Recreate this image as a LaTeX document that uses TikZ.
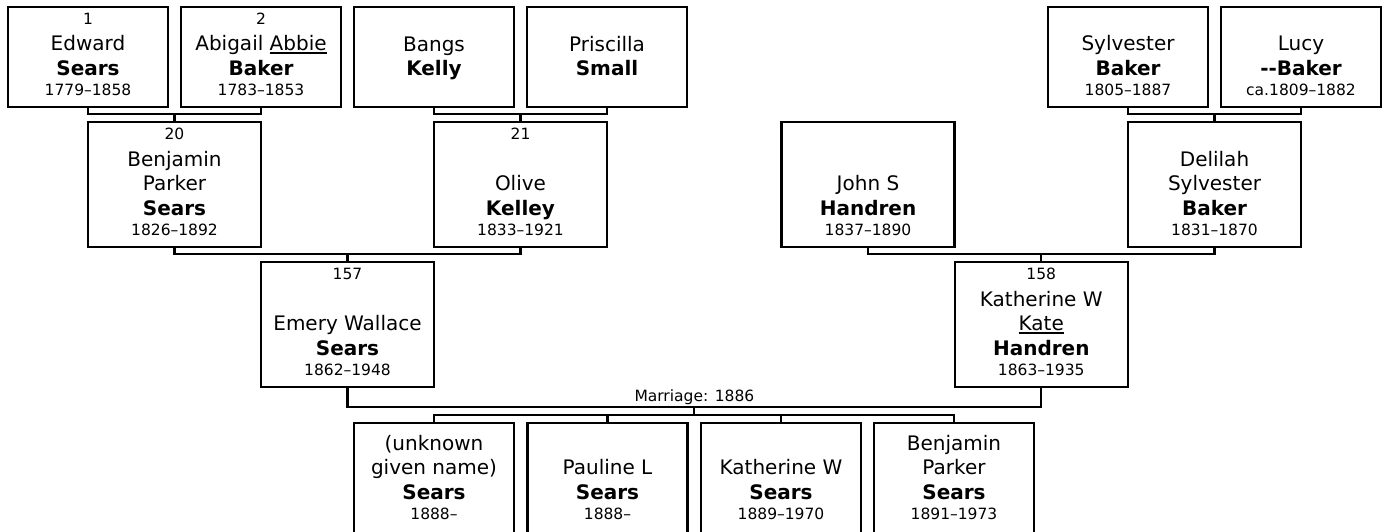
\documentclass[tikz,border=0pt]{standalone}
\usepackage{fontspec}
\setmainfont{DejaVu Sans}
\usetikzlibrary{calc}
\newlength\pw
\newlength\ph
\newlength\pb
\newsavebox\ulbox
\newcommand{\undl}[1]{\leavevmode\sbox\ulbox{#1}\rlap{\rule[-3pt]{\wd\ulbox}{1.5pt}}\usebox\ulbox}
\newcommand{\pers}[3]{\vbox to \ph{\hsize=\pw\centering\lineskiplimit=-50pt
  \fontsize{15.5}{20.5}\selectfont
  \if\relax\detokenize{#1}\relax\else\rule{0pt}{17pt}#1\par\fi\vfill
  \fontsize{20}{24.5}\selectfont #2\par
  \fontsize{15.5}{20.5}\selectfont\mbox{}#3\par\kern\pb}}
\begin{document}
\begin{tikzpicture}[
  x=1pt, y=-1pt,
  pbox/.style={draw, line width=2.2pt, inner sep=0pt, outer sep=0pt},
  topbox/.style={pbox, execute at begin node={\setlength\pw{160pt}\setlength\ph{100pt}\setlength\pb{11pt}}},
  midbox/.style={pbox, execute at begin node={\setlength\pw{173pt}\setlength\ph{125pt}\setlength\pb{11pt}}},
  kidbox/.style={pbox, execute at begin node={\setlength\pw{160pt}\setlength\ph{111pt}\setlength\pb{14pt}}},
  link/.style={draw, line width=2.2pt},
  mtext/.style={font=\fontsize{15.5}{18}\selectfont, inner sep=2pt}
]
\useasboundingbox (0,0) rectangle (1386,531);
\fill[white] (0,0) rectangle (1386,531);
\node[topbox] (edward)    at (88,57)   {\pers{1}{Edward\\\textbf{Sears}}{1779--1858}};
\node[topbox] (abigail)   at (261,57)  {\pers{2}{Abigail \undl{Abbie}\\\textbf{Baker}}{1783--1853}};
\node[topbox] (bangs)     at (434,57)  {\pers{}{Bangs\\\textbf{Kelly}}{}};
\node[topbox] (priscilla) at (607,57)  {\pers{}{Priscilla\\\textbf{Small}}{}};
\node[topbox] (sylvester) at (1128,57) {\pers{}{Sylvester\\\textbf{Baker}}{1805--1887}};
\node[topbox] (lucy)      at (1301,57) {\pers{}{Lucy\\\textbf{-\kern0pt-Baker}}{ca.1809--1882}};
\node[midbox] (benjamin)  at (174.5,184.5)  {\pers{20}{Benjamin\\Parker\\\textbf{Sears}}{1826--1892}};
\node[midbox] (olive)     at (520.5,184.5)  {\pers{21}{Olive\\\textbf{Kelley}}{1833--1921}};
\node[midbox] (john)      at (868,184.5)    {\pers{}{John S\\\textbf{Handren}}{1837--1890}};
\node[midbox] (delilah)   at (1214.5,184.5) {\pers{}{Delilah\\Sylvester\\\textbf{Baker}}{1831--1870}};
\node[midbox] (emery)     at (347.5,324.5)  {\pers{157}{Emery Wallace\\\textbf{Sears}}{1862--1948}};
\node[midbox] (katherine) at (1041.25,324.5) {\pers{158}{Katherine W\\\undl{Kate}\\\textbf{Handren}}{1863--1935}};
\node[kidbox] (kid1) at (434,478.5)   {\pers{}{(unknown\\given name)\\\textbf{Sears}}{1888--}};
\node[kidbox] (kid2) at (607.5,478.5) {\pers{}{Pauline L\\\textbf{Sears}}{1888--}};
\node[kidbox] (kid3) at (781,478.5)   {\pers{}{Katherine W\\\textbf{Sears}}{1889--1970}};
\node[kidbox] (kid4) at (954,478.5)   {\pers{}{Benjamin\\Parker\\\textbf{Sears}}{1891--1973}};
\coordinate (f1) at ([yshift=8pt]benjamin.north);
\coordinate (f2) at ([yshift=8pt]olive.north);
\coordinate (f3) at ([yshift=8pt]delilah.north);
\coordinate (f4) at ([yshift=8pt]emery.north);
\coordinate (f5) at ([yshift=8pt]katherine.north);
\draw[link] (edward.south) |- (f1) -| (abigail.south);
\draw[link] (f1) -- (benjamin.north);
\draw[link] (bangs.south) |- (f2) -| (priscilla.south);
\draw[link] (f2) -- (olive.north);
\draw[link] (sylvester.south) |- (f3) -| (lucy.south);
\draw[link] (f3) -- (delilah.north);
\draw[link] (benjamin.south) |- (f4) -| (olive.south);
\draw[link] (f4) -- (emery.north);
\draw[link] (john.south) |- (f5) -| (delilah.south);
\draw[link] (f5) -- (katherine.north);
\coordinate (wed) at ($(emery.south)!0.5!(katherine.south)+(0,20)$);
\coordinate (brood) at ($(wed)+(0,8)$);
\draw[link] (emery.south) |- (wed) -| (katherine.south);
\node[mtext, anchor=south] (wedlabel) at (wed) {Marriage: 1886};
\draw[link] (wed) -- (brood);
\draw[link] (kid1.north) |- (brood) -| (kid4.north);
\draw[link] (kid2.north) -- (kid2.north |- brood);
\draw[link] (kid3.north) -- (kid3.north |- brood);
\end{tikzpicture}
\end{document}
